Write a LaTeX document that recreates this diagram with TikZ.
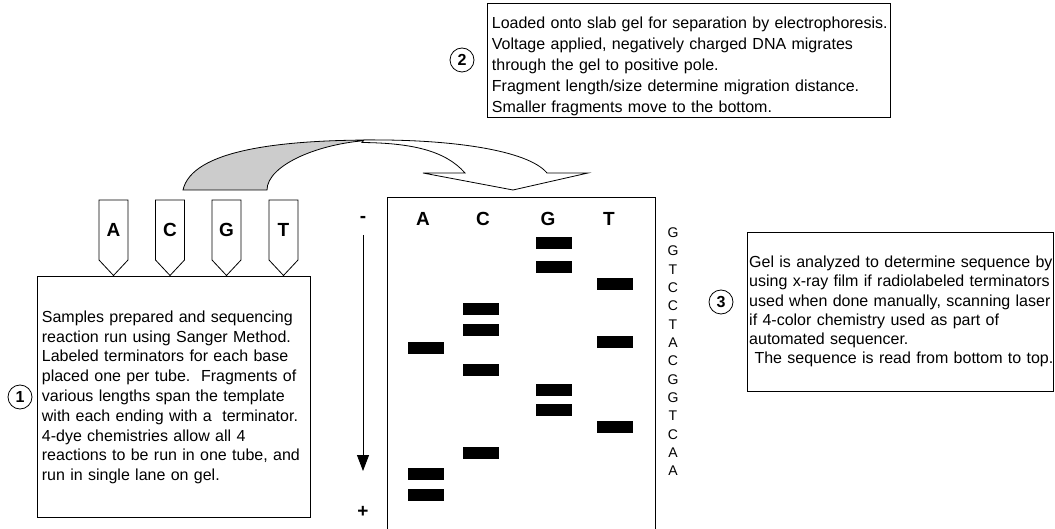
\documentclass[tikz,border=0pt]{standalone}
\usepackage{fontspec}
\setmainfont{Liberation Sans}
\usetikzlibrary{arrows.meta}
\frenchspacing
\begin{document}
\begin{tikzpicture}[x=1pt,y=-1pt,
  box/.style={draw=black, line width=0.8pt, fill=white, inner sep=0pt, anchor=north west},
  para/.style={anchor=north west, inner sep=0pt, align=left, text width=#1},
  para/.default=320pt,
  numc/.style={draw=black, line width=0.8pt, circle, minimum size=24pt, inner sep=0pt, font=\bfseries\fontsize{16}{16}\selectfont},
  lane/.style={font=\bfseries\fontsize{19}{19}\selectfont, inner sep=0pt},
  tubeshape/.style={draw=black, line width=0.8pt, fill=white},
  band/.style={fill=black},
  seq/.style={font=\fontsize{14}{14}\selectfont, inner sep=0pt},
  pm/.style={font=\bfseries\fontsize{19}{19}\selectfont, inner sep=0pt}
]
\useasboundingbox (0,0) rectangle (1055,529);

% curved arrow (step 1 -> step 2 -> gel)
\filldraw[fill=gray!40, draw=black, line width=0.8pt]
  (183,190) .. controls (192,150) and (280,140) .. (375,140)
  .. controls (320,142) and (267,165) .. (267,190) -- cycle;
\filldraw[fill=white, draw=black, line width=0.8pt]
  (364,140) .. controls (450,139) and (528,150) .. (547,173)
  -- (588,173) -- (513,190) -- (423,173) -- (465,173)
  .. controls (445,150) and (410,143) .. (362,142.5) -- cycle;

% box 1
\node[box, minimum width=273pt, minimum height=241pt] (box1) at (37,276) {};
\node[para=270pt, font=\fontsize{16}{19.8}\selectfont] (txt1) at (41.7,310.5) {%
Samples prepared and sequencing\\
reaction run using Sanger Method.\\
Labeled terminators for each base\\
placed one per tube.~ Fragments of\\
various lengths span the template\\
with each ending with a~ terminator.\\
4-dye chemistries allow all 4\\
reactions to be run in one tube, and\\
run in single lane on gel.};
\node[numc] (c1) at (20,397) {1};

% tubes
\foreach \cx/\L in {113.5/A,170/C,226.5/G,283.5/T}{
  \draw[tubeshape] (\cx-14.5,200) -- (\cx+14.5,200) -- (\cx+14.5,260) -- (\cx,275.5) -- (\cx-14.5,260) -- cycle;
  \node[lane] (tube\L) at (\cx,230) {\L};
}

% box 2
\node[box, minimum width=403pt, minimum height=114pt] (box2) at (487,3) {};
\node[para=400pt, font=\fontsize{16}{21}\selectfont] (txt2) at (491.7,16.7) {%
Loaded onto slab gel for separation by electrophoresis.\\
Voltage applied, negatively charged DNA migrates\\
through the gel to positive pole.\\
Fragment length/size determine migration distance.\\
Smaller fragments move to the bottom.};
\node[numc] (c2) at (462,60) {2};

% gel
\node[box, minimum width=268pt, minimum height=340pt] (gel) at (387,197) {};
\node[lane] (laneA) at (423,218.5) {A};
\node[lane] (laneC) at (483,218.5) {C};
\node[lane] (laneG) at (548,218.5) {G};
\node[lane] (laneT) at (609,218.5) {T};
\foreach \bx/\by in {426/348,426/474,426/495,
                     481/308.7,481/329.7,481/369.7,481/452.7,
                     554/243.3,554/267.3,554/390.3,554/410.3,
                     615/284.3,615/342.3,615/427.3}{
  \fill[band] (\bx-18,\by-6) rectangle (\bx+18,\by+6);
}

% migration arrow
\node[pm] (minus) at (363,219) {-};
\node[pm] (plus) at (363,512) {+};
\coordinate (arrTop) at (363,235);
\coordinate (arrTip) at (363,471);
\draw[line width=0.8pt, -{Triangle[length=16pt,width=12pt]}] (arrTop) -- (arrTip);

% sequence read
\foreach \L [count=\k from 0] in {G,G,T,C,C,T,A,C,G,G,T,C,A,A}{
  \node[seq] (seq\k) at (673,232.7+18.33*\k) {\L};
}

% box 3
\node[box, minimum width=306pt, minimum height=159pt] (box3) at (747,232) {};
\node[para=340pt, font=\fontsize{16}{19.3}\selectfont] (txt3) at (749,255.7) {%
Gel is analyzed to determine sequence by\\
using x-ray film if radiolabeled terminators\\
used when done manually, scanning laser\\
if 4-color chemistry used as part of\\
automated sequencer.\\
\ The sequence is read from bottom to top.};
\node[numc] (c3) at (721,302) {3};
\end{tikzpicture}
\end{document}
